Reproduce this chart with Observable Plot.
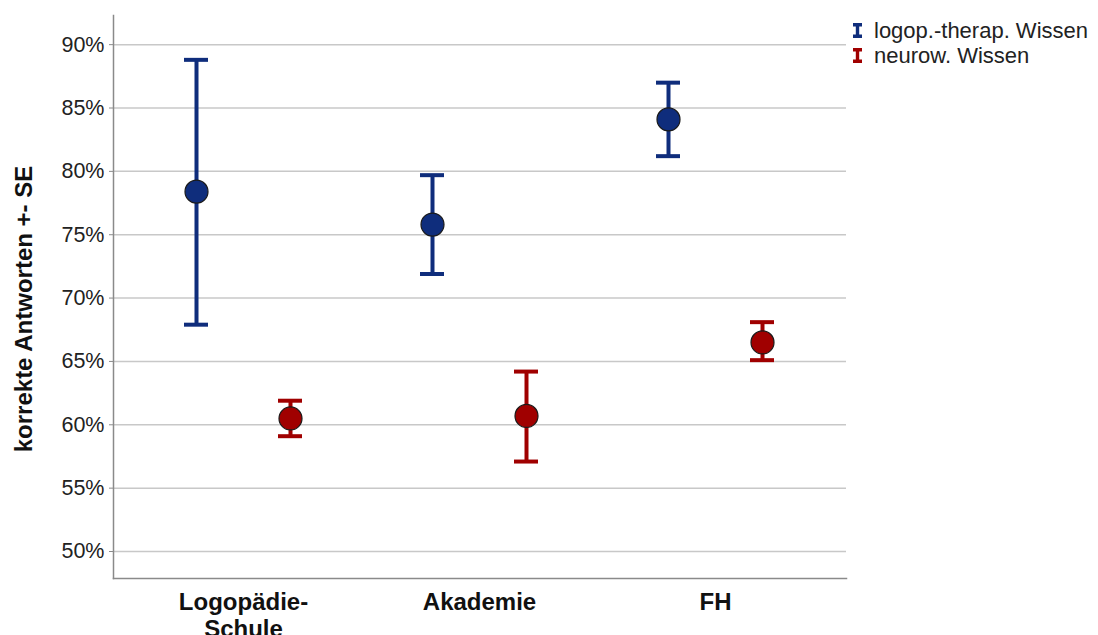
<!DOCTYPE html>
<html>
<head>
<meta charset="utf-8">
<script src="https://cdn.jsdelivr.net/npm/d3@7"></script>
<script src="https://cdn.jsdelivr.net/npm/@observablehq/plot@0.6"></script>
<style>
  html, body { margin: 0; padding: 0; background: #fff; overflow: hidden; }
  #wrap { position: relative; width: 1098px; height: 635px; font-family: "Liberation Sans", Arial, sans-serif; }
  #legend { position: absolute; left: 853px; top: 18px; font-size: 22px; color: #222; }
  .row { display: flex; align-items: center; height: 25px; white-space: nowrap; }
  .row svg { margin-right: 12px; }
</style>
</head>
<body>
<div id="wrap"><div id="legend"></div></div>
<script>
const categories = ["Logopädie-\nSchule", "Akademie", "FH"];
const seriesNames = ["logop.-therap. Wissen", "neurow. Wissen"];
const seriesColors = ["#0f2d7c", "#a00000"];
const blueMean = [78.4, 75.8, 84.1];
const blueLow  = [67.9, 71.9, 81.2];
const blueHigh = [88.8, 79.7, 87.0];
const redMean  = [60.5, 60.7, 66.5];
const redLow   = [59.1, 57.1, 65.1];
const redHigh  = [61.9, 64.2, 68.1];
const yTicks = [50, 55, 60, 65, 70, 75, 80, 85, 90];
const yTitle = "korrekte Antworten +- SE";

const series = [
  {name: seriesNames[0], color: seriesColors[0], mean: blueMean, low: blueLow, high: blueHigh, dx: -47},
  {name: seriesNames[1], color: seriesColors[1], mean: redMean, low: redLow, high: redHigh, dx: 47}
];

const marks = [
  Plot.ruleY(yTicks, {stroke: "#c8c8c8", strokeWidth: 1.5}),
  Plot.frame({anchor: "left", stroke: "#8a8a8a", strokeWidth: 1.5}),
  Plot.frame({anchor: "bottom", stroke: "#8a8a8a", strokeWidth: 1.5}),
  Plot.axisY({ticks: yTicks, tickFormat: d => d + "%", tickSize: 4, tickPadding: 5, stroke: "#8a8a8a",
               fontSize: 21.5, fill: "#222", label: null}),
  Plot.axisX({tickSize: 0, tickPadding: 13, fontSize: 24, fontWeight: "bold", fill: "#111",
              lineHeight: 1.1, label: null}),
  Plot.text([yTitle], {frameAnchor: "left", text: d => d, rotate: -90, textAnchor: "middle", dx: -89, dy: 12,
                       fontSize: 24, fontWeight: "bold", fill: "#111"})
];

for (const s of series) {
  const data = categories.map((c, i) => ({cat: c, mean: s.mean[i], low: s.low[i], high: s.high[i]}));
  marks.push(
    Plot.ruleX(data, {x: "cat", y1: "low", y2: "high", stroke: s.color, strokeWidth: 4, dx: s.dx}),
    Plot.tickY(data, {x: "cat", y: "low", stroke: s.color, strokeWidth: 4, dx: s.dx, insetLeft: 106, insetRight: 106}),
    Plot.tickY(data, {x: "cat", y: "high", stroke: s.color, strokeWidth: 4, dx: s.dx, insetLeft: 106, insetRight: 106}),
    Plot.dot(data, {x: "cat", y: "mean", r: 11.5, fill: s.color, stroke: "#1a1a1a", strokeWidth: 1.2, dx: s.dx})
  );
}

const chart = Plot.plot({
  width: 1098,
  height: 635,
  marginLeft: 113,
  marginRight: 252,
  marginTop: 15,
  marginBottom: 57,
  style: {fontFamily: "'Liberation Sans', Arial, sans-serif", background: "#fff"},
  x: {domain: categories, padding: 0, insetLeft: 12, insetRight: 13, axis: null},
  y: {domain: [47.87, 92.3], axis: null},
  marks
});

const wrap = document.getElementById("wrap");
wrap.insertBefore(chart, wrap.firstChild);

const legend = document.getElementById("legend");
for (const s of series) {
  const row = document.createElement("div");
  row.className = "row";
  row.innerHTML = `<svg width="9" height="15" viewBox="0 0 9 15">
      <rect x="0" y="0" width="9" height="3.5" fill="${s.color}"/>
      <rect x="2.8" y="0" width="3.4" height="15" fill="${s.color}"/>
      <rect x="0" y="11.5" width="9" height="3.5" fill="${s.color}"/>
    </svg><span>${s.name}</span>`;
  legend.appendChild(row);
}
</script>
</body>
</html>
